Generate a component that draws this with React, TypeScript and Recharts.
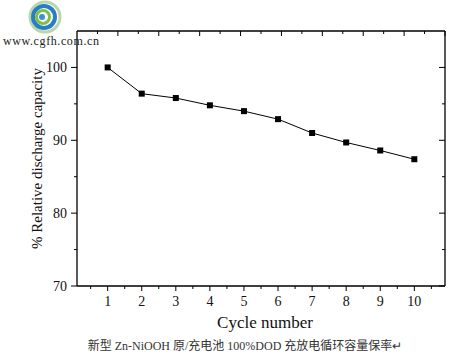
import React from 'react'
import { LineChart, Line, XAxis, YAxis, Label } from 'recharts'

const cycles = [1, 2, 3, 4, 5, 6, 7, 8, 9, 10]
const capacity = [100, 96.4, 95.8, 94.8, 94.0, 92.9, 91.0, 89.7, 88.6, 87.4]
const xTicks = [0.5, 1, 1.5, 2, 2.5, 3, 3.5, 4, 4.5, 5, 5.5, 6, 6.5, 7, 7.5, 8, 8.5, 9, 9.5, 10, 10.5]
const yTicks = [70, 75, 80, 85, 90, 95, 100]
const caption = '新型 Zn-NiOOH 原/充电池 100%DOD 充放电循环容量保率↵'

const data = cycles.map((c, i) => ({ cycle: c, value: capacity[i] }))

const serif = '"Liberation Serif", "Times New Roman", serif'
const cjkSerif = '"Liberation Serif", "Noto Sans CJK SC", serif'

// tick helpers: tickSize/tickMargin are 0 so x,y land on the axis line
const BottomTick = (props: any) => {
  const { x, y, payload } = props
  const major = Number.isInteger(payload.value)
  return (
    <g>
      <line x1={x} x2={x} y1={y} y2={y + (major ? 5 : 3)} stroke="#000" strokeWidth={1} />
      {major && (
        <text x={x} y={y + 20} textAnchor="middle" style={{ fontFamily: serif, fontSize: 14 }} fill="#111">
          {payload.value}
        </text>
      )}
    </g>
  )
}

const TopTick = (props: any) => {
  const { x, y, payload } = props
  const major = Number.isInteger(payload.value)
  return <line x1={x} x2={x} y1={y} y2={y + (major ? 5 : 3)} stroke="#000" strokeWidth={1} />
}

const LeftTick = (props: any) => {
  const { x, y, payload } = props
  const major = payload.value % 10 === 0
  return (
    <g>
      <line x1={x} x2={x - (major ? 6 : 3)} y1={y} y2={y} stroke="#000" strokeWidth={1} />
      {major && (
        <text x={x - 10} y={y + 5} textAnchor="end" style={{ fontFamily: serif, fontSize: 14 }} fill="#111">
          {payload.value}
        </text>
      )}
    </g>
  )
}

const RightTick = (props: any) => {
  const { x, y, payload } = props
  const major = payload.value % 10 === 0
  return <line x1={x} x2={x - (major ? 6 : 3)} y1={y} y2={y} stroke="#000" strokeWidth={1} />
}

const SquareDot = (props: any) => {
  const { cx, cy, index } = props
  if (cx == null || cy == null) return null
  return <rect key={`dot-${index}`} x={cx - 3} y={cy - 3} width={6} height={6} fill="#000" />
}

function Logo() {
  return (
    <svg width={110} height={50} style={{ position: 'absolute', left: 0, top: 0 }}>
      <circle cx={45} cy={17} r={15} fill="none" stroke="#b9d7a8" strokeWidth={3} />
      <circle cx={44} cy={17} r={11} fill="none" stroke="#2a7cc7" strokeWidth={4} />
      <circle cx={43} cy={17} r={6.5} fill="none" stroke="#7cc242" strokeWidth={3} />
      <circle cx={42} cy={17} r={3} fill="#3d8fd0" />
      <text x={3} y={45} style={{ fontFamily: '"Liberation Serif", serif', fontSize: 12 }} fill="#222" letterSpacing={0.6}>
        www.cgfh.com.cn
      </text>
    </svg>
  )
}

export default function App() {
  return (
    <div style={{ position: 'absolute', left: 0, top: 0, width: 463, height: 359, background: '#fff' }}>
      <LineChart width={463} height={359} data={data} margin={{ top: 0, right: 0, bottom: 0, left: 0 }}>
        <XAxis
          xAxisId="bottom"
          dataKey="cycle"
          type="number"
          domain={[0.1, 10.9]}
          allowDataOverflow
          ticks={xTicks}
          interval={0}
          height={73}
          tickSize={0}
          tickMargin={0}
          tick={<BottomTick />}
          axisLine={{ stroke: '#000', strokeWidth: 1.3 }}
        >
          <Label value="Cycle number" position="insideTop" offset={30} dx={4} style={{ fontFamily: serif, fontSize: 17 }} fill="#111" />
          <Label
            value={caption}
            position="insideBottom"
            offset={9}
            dx={-16}
            style={{ fontFamily: cjkSerif, fontSize: 12 }}
            fill="#333"
          />
        </XAxis>
        <XAxis
          xAxisId="top"
          orientation="top"
          type="number"
          domain={[0.1, 10.9]}
          allowDataOverflow
          ticks={xTicks}
          interval={0}
          height={31}
          tickSize={0}
          tickMargin={0}
          tick={<TopTick />}
          axisLine={{ stroke: '#000', strokeWidth: 1.3 }}
        />
        <YAxis
          yAxisId="left"
          type="number"
          domain={[70, 105]}
          allowDataOverflow
          ticks={yTicks}
          interval={0}
          width={77}
          tickSize={0}
          tickMargin={0}
          tick={<LeftTick />}
          axisLine={{ stroke: '#000', strokeWidth: 1.3 }}
        >
          <Label
            value="% Relative discharge capacity"
            angle={-90}
            position="center"
            dx={-1.5}
            style={{ fontFamily: serif, fontSize: 15 }}
            fill="#111"
          />
        </YAxis>
        <YAxis
          yAxisId="right"
          orientation="right"
          type="number"
          domain={[70, 105]}
          allowDataOverflow
          ticks={yTicks}
          interval={0}
          width={18}
          tickSize={0}
          tickMargin={0}
          tick={<RightTick />}
          axisLine={{ stroke: '#000', strokeWidth: 1.3 }}
        />
        <Line
          xAxisId="bottom"
          yAxisId="left"
          type="linear"
          dataKey="value"
          stroke="#000"
          strokeWidth={1}
          dot={<SquareDot />}
          activeDot={false}
          isAnimationActive={false}
        />
      </LineChart>
      <Logo />
    </div>
  )
}
